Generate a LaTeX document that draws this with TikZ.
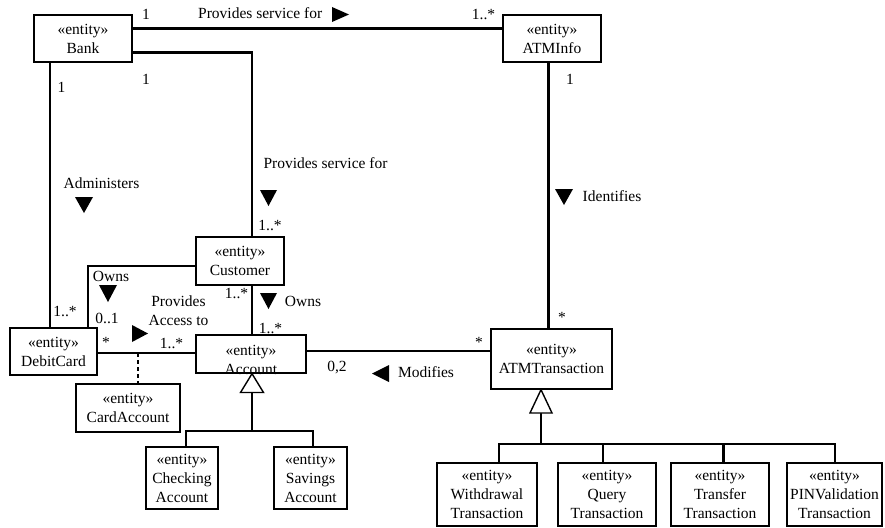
\documentclass[tikz,border=0pt]{standalone}
\usepackage{fontspec}
\setmainfont{Liberation Serif}
\newfontfamily\diagfont{Liberation Serif}
\begin{document}
\begin{tikzpicture}[x=1pt,y=-1pt,
  every node/.style={font=\diagfont\fontsize{15.5}{19}\selectfont},
  cls/.style={draw,line width=1.4pt,rectangle,inner sep=0pt,align=center},
  assoc/.style={line width=2.4pt},
  gen/.style={draw,line width=1.4pt,fill=white},
  dir/.style={fill=black},
  lbl/.style={anchor=base,inner sep=0pt}]
\useasboundingbox (0,0) rectangle (885,527);

% classes
\node[cls,minimum width=98pt,minimum height=47pt] (bank) at (83,38.5) {«entity»\\Bank};
\node[cls,minimum width=98pt,minimum height=47pt] (atminfo) at (552,38.5) {«entity»\\ATMInfo};
\node[cls,minimum width=88pt,minimum height=48pt] (customer) at (240,261) {«entity»\\Customer};
\node[cls,minimum width=87pt,minimum height=47pt] (debitcard) at (53.5,351.5) {«entity»\\DebitCard};
\node[cls,minimum width=110pt,minimum height=38pt] (account) at (251,354) {};
\node[inner sep=0pt,align=center] (accounttext) at (251,359.5) {«entity»\\Account};
\node[cls,minimum width=104pt,minimum height=48pt] (cardaccount) at (128,408) {«entity»\\CardAccount};
\node[cls,minimum width=72pt,minimum height=62pt] (checking) at (182,478) {«entity»\\Checking\\Account};
\node[cls,minimum width=73pt,minimum height=62pt] (savings) at (310.5,478) {«entity»\\Savings\\Account};
\node[cls,minimum width=121pt,minimum height=60pt] (atmtrans) at (551.5,359) {«entity»\\ATMTransaction};
\node[cls,minimum width=100pt,minimum height=63pt] (withdrawal) at (487,494.5) {«entity»\\Withdrawal\\Transaction};
\node[cls,minimum width=98pt,minimum height=63pt] (query) at (607,494.5) {«entity»\\Query\\Transaction};
\node[cls,minimum width=98pt,minimum height=63pt] (transfer) at (720,494.5) {«entity»\\Transfer\\Transaction};
\node[cls,minimum width=95pt,minimum height=63pt] (pinval) at (834.5,494.5) {«entity»\\PINValidation\\Transaction};

% associations
\draw[assoc] (bank.east |- 0,28.5) -- (atminfo.west |- 0,28.5);
\draw[assoc] (bank.east |- 0,52.5) -| (customer.north -| 252,0);
\draw[assoc] (bank.south -| 50,0) -- (debitcard.north -| 50,0);
\draw[assoc] (customer.west |- 0,266) -| (debitcard.north -| 88,0);
\draw[assoc] (debitcard.east |- 0,353) -- (account.west |- 0,353);
\draw[assoc] (customer.south -| 252,0) -- (account.north -| 252,0);
\draw[assoc] (account.east |- 0,351) -- (atmtrans.west |- 0,351);
\draw[assoc] (atminfo.south -| 548.5,0) -- (atmtrans.north -| 548.5,0);

% association class link
\coordinate (cardlink) at (138,353);
\draw[line width=1.2pt,dash pattern=on 4pt off 3pt] (cardlink) -- (cardaccount.north -| 138,0);

% Account generalization
\coordinate (accbase) at (252,392.5);
\draw[assoc] (accbase) -- (252,431);
\draw[assoc] (checking.north -| 186,0) -- (186,431) -- (313,431) -- (savings.north -| 313,0);
\draw[gen] (account.south -| 252,0) -- (240.5,392.5) -- (263.5,392.5) -- cycle;

% ATMTransaction generalization
\coordinate (trbase) at (541,413);
\draw[assoc] (trbase) -- (541,444);
\draw[assoc] (withdrawal.north -| 499,0) -- (499,444) -- (835,444) -- (pinval.north -| 835,0);
\draw[assoc] (query.north -| 603,0) -- (603,444);
\draw[assoc] (transfer.north -| 723.5,0) -- (723.5,444);
\draw[gen] (atmtrans.south -| 541,0) -- (530,413) -- (552,413) -- cycle;

% direction markers
\fill[dir] (332,7) -- (332,22) -- (349,14.5) -- cycle;
\fill[dir] (75,197) -- (93,197) -- (84,213) -- cycle;
\fill[dir] (260,190) -- (277,190) -- (268.5,206) -- cycle;
\fill[dir] (99,285) -- (117,285) -- (108,302) -- cycle;
\fill[dir] (132,325) -- (132,342) -- (148,333.5) -- cycle;
\fill[dir] (260,293) -- (277,293) -- (268.5,309) -- cycle;
\fill[dir] (389,365) -- (389,382) -- (372,373.5) -- cycle;
\fill[dir] (555,189) -- (573,189) -- (564,205) -- cycle;

% names and multiplicities
\node[lbl] (m1) at (146,20) {1};
\node[lbl,anchor=base west] (n1) at (198,18.5) {Provides service for};
\node[lbl] (m2) at (483.5,20) {1..*};
\node[lbl] (m3) at (146,84) {1};
\node[lbl] (m4) at (61.5,92.5) {1};
\node[lbl] (n2) at (101.5,188) {Administers};
\node[lbl] (n3) at (325.5,168) {Provides service for};
\node[lbl] (m5) at (270,230) {1..*};
\node[lbl] (n4) at (612,201.5) {Identifies};
\node[lbl] (m6) at (570,84) {1};
\node[lbl] (m7) at (562,322.5) {*};
\node[lbl] (m8) at (479,347.5) {*};
\node[lbl] (m9) at (337,371) {0,2};
\node[lbl] (n5) at (426,377) {Modifies};
\node[lbl] (m10) at (171.5,348) {1..*};
\node[lbl] (m11) at (236.5,298) {1..*};
\node[lbl] (n6) at (303,306) {Owns};
\node[lbl] (m12) at (270.5,333) {1..*};
\node[lbl] (n7) at (178.5,306) {Provides};
\node[lbl] (n8) at (178.5,325) {Access to};
\node[lbl] (m13) at (65,316) {1..*};
\node[lbl] (n9) at (111,281.5) {Owns};
\node[lbl] (m14) at (107,323) {0..1};
\node[lbl] (m15) at (106,347) {*};
\end{tikzpicture}
\end{document}
